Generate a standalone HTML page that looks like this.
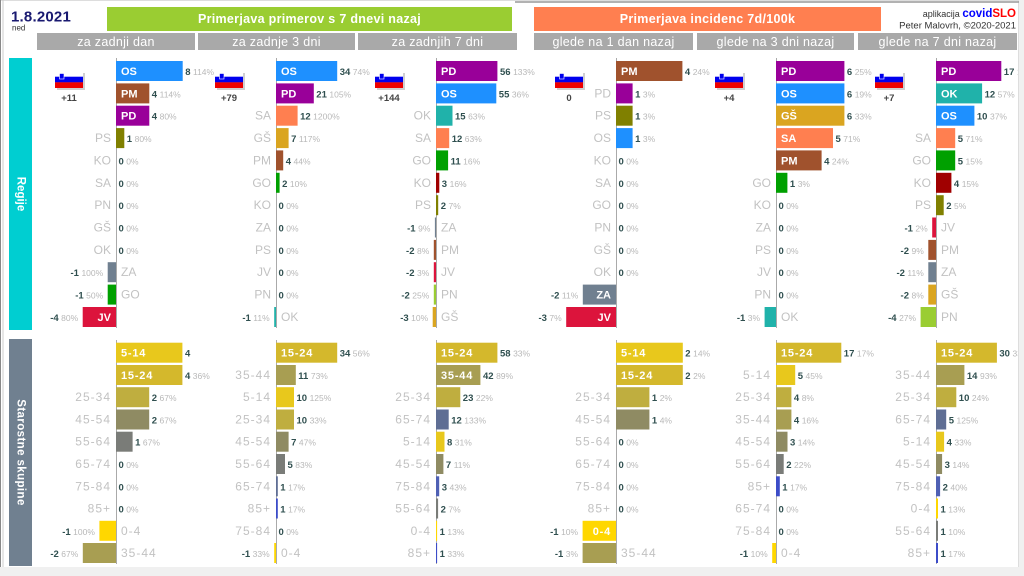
<!DOCTYPE html>
<html><head><meta charset="utf-8"><style>
html,body{margin:0;padding:0;background:#fff}
svg{display:block}
text{font-family:"Liberation Sans","DejaVu Sans",sans-serif}
.i{font-size:11px;font-weight:bold;fill:#fff}
.ia{font-size:11px;font-weight:bold;fill:#fff;letter-spacing:.8px}
.c{font-size:12px;fill:#c2c2c2}
.ca{font-size:12px;fill:#c2c2c2;letter-spacing:1px}
.v{font-size:9.5px;font-weight:bold;fill:#2f4f4f}
.p{font-size:8.5px;font-weight:normal;fill:#b8b8b8}
.e{text-anchor:end}
.h{font-size:12.5px;fill:#fff;text-anchor:middle;letter-spacing:.3px}
.t{font-size:12.5px;font-weight:bold;fill:#fff;text-anchor:middle;letter-spacing:.3px}
.n{font-size:9.5px;font-weight:bold;fill:#444;text-anchor:middle}
.ax{stroke:#aaa;stroke-width:1}
</style></head><body>
<svg width="1024" height="576" viewBox="0 0 1024 576" xmlns="http://www.w3.org/2000/svg">
<defs><clipPath id="cl"><rect x="0" y="0" width="1018" height="576"/></clipPath></defs>
<rect x="0" y="0" width="1024" height="576" fill="#fff"/>
<!-- frame -->
<rect x="1019" y="0" width="5" height="576" fill="#f0f0f0"/>
<rect x="0" y="567" width="1024" height="9" fill="#f0f0f0"/>
<line x1="1018.5" y1="0" x2="1018.5" y2="567" stroke="#ddd"/>
<line x1="0" y1="0.5" x2="1019" y2="0.5" stroke="#ddd"/>
<line x1="515" y1="2" x2="1019" y2="2" stroke="#999" stroke-width="1.5"/>
<line x1="0.5" y1="0" x2="0.5" y2="567" stroke="#888"/>
<line x1="3" y1="0" x2="3" y2="567" stroke="#ccc"/>

<!-- header -->
<text x="11" y="21.5" style="font-size:15px;font-weight:bold;fill:#191970;letter-spacing:.2px">1.8.2021</text>
<text x="12" y="30.5" style="font-size:8px;fill:#333">ned</text>
<rect x="107" y="7" width="405" height="24" fill="#9acd32"/>
<text class="t" x="309.5" y="23">Primerjava primerov s 7 dnevi nazaj</text>
<rect x="534" y="7" width="347" height="24" fill="#ff7f50"/>
<text class="t" x="707.5" y="23">Primerjava incidenc 7d/100k</text>
<text x="1016" y="17" text-anchor="end"><tspan style="font-size:9px;fill:#333">aplikacija </tspan><tspan style="font-size:11.5px;font-weight:bold;fill:#0000ff">covid</tspan><tspan style="font-size:11.5px;font-weight:bold;fill:#ff0000">SLO</tspan></text>
<text x="1016" y="28.5" text-anchor="end" style="font-size:9.5px;fill:#333">Peter Malovrh, ©2020-2021</text>
<rect x="37" y="33" width="158" height="17" fill="#a9a9a9"/><text class="h" x="116" y="46">za zadnji dan</text>
<rect x="198" y="33" width="157" height="17" fill="#a9a9a9"/><text class="h" x="276.5" y="46">za zadnje 3 dni</text>
<rect x="358" y="33" width="159" height="17" fill="#a9a9a9"/><text class="h" x="437.5" y="46">za zadnjih 7 dni</text>
<rect x="534" y="33" width="159" height="17" fill="#a9a9a9"/><text class="h" x="613.5" y="46">glede na 1 dan nazaj</text>
<rect x="697" y="33" width="157" height="17" fill="#a9a9a9"/><text class="h" x="775.5" y="46">glede na 3 dni nazaj</text>
<rect x="858" y="33" width="159" height="17" fill="#a9a9a9"/><text class="h" x="937.5" y="46">glede na 7 dni nazaj</text>

<!-- side labels -->
<rect x="9" y="58" width="23" height="272" fill="#00ced1"/>
<text transform="translate(20.5,194) rotate(90)" text-anchor="middle" dominant-baseline="central" style="font-size:11.5px;font-weight:bold;fill:#fff">Regije</text>
<rect x="9" y="339" width="23" height="227" fill="#708090"/>
<text transform="translate(20.5,452.5) rotate(90)" text-anchor="middle" dominant-baseline="central" style="font-size:11.5px;font-weight:bold;fill:#fff;letter-spacing:.4px">Starostne skupine</text>

<!-- axes -->
<g class="ax">
<line x1="116.5" y1="58" x2="116.5" y2="328"/><line x1="276.5" y1="58" x2="276.5" y2="328"/><line x1="436.5" y1="58" x2="436.5" y2="328"/>
<line x1="616.5" y1="58" x2="616.5" y2="328"/><line x1="776.5" y1="58" x2="776.5" y2="328"/><line x1="936.5" y1="58" x2="936.5" y2="328"/>
<line x1="116.5" y1="340" x2="116.5" y2="564"/><line x1="276.5" y1="340" x2="276.5" y2="564"/><line x1="436.5" y1="340" x2="436.5" y2="564"/>
<line x1="616.5" y1="340" x2="616.5" y2="564"/><line x1="776.5" y1="340" x2="776.5" y2="564"/><line x1="936.5" y1="340" x2="936.5" y2="564"/>
</g>

<!-- flags -->
<g>
<rect x="57" y="73" width="28" height="17" fill="#d0d0d0"/><rect x="55" y="71" width="28" height="6" fill="#fff"/><rect x="55" y="76.7" width="28" height="5.7" fill="#0000ee"/><rect x="55" y="82.3" width="28" height="5.7" fill="#ee0000"/><rect x="59.5" y="73.5" width="4.5" height="5.5" fill="#0000ee" stroke="#fff" stroke-width=".6"/>
<text class="n" x="69" y="101">+11</text>
<rect x="217" y="73" width="28" height="17" fill="#d0d0d0"/><rect x="215" y="71" width="28" height="6" fill="#fff"/><rect x="215" y="76.7" width="28" height="5.7" fill="#0000ee"/><rect x="215" y="82.3" width="28" height="5.7" fill="#ee0000"/><rect x="219.5" y="73.5" width="4.5" height="5.5" fill="#0000ee" stroke="#fff" stroke-width=".6"/>
<text class="n" x="229" y="101">+79</text>
<rect x="377" y="73" width="28" height="17" fill="#d0d0d0"/><rect x="375" y="71" width="28" height="6" fill="#fff"/><rect x="375" y="76.7" width="28" height="5.7" fill="#0000ee"/><rect x="375" y="82.3" width="28" height="5.7" fill="#ee0000"/><rect x="379.5" y="73.5" width="4.5" height="5.5" fill="#0000ee" stroke="#fff" stroke-width=".6"/>
<text class="n" x="389" y="101">+144</text>
<rect x="557" y="73" width="28" height="17" fill="#d0d0d0"/><rect x="555" y="71" width="28" height="6" fill="#fff"/><rect x="555" y="76.7" width="28" height="5.7" fill="#0000ee"/><rect x="555" y="82.3" width="28" height="5.7" fill="#ee0000"/><rect x="559.5" y="73.5" width="4.5" height="5.5" fill="#0000ee" stroke="#fff" stroke-width=".6"/>
<text class="n" x="569" y="101">0</text>
<rect x="717" y="73" width="28" height="17" fill="#d0d0d0"/><rect x="715" y="71" width="28" height="6" fill="#fff"/><rect x="715" y="76.7" width="28" height="5.7" fill="#0000ee"/><rect x="715" y="82.3" width="28" height="5.7" fill="#ee0000"/><rect x="719.5" y="73.5" width="4.5" height="5.5" fill="#0000ee" stroke="#fff" stroke-width=".6"/>
<text class="n" x="729" y="101">+4</text>
<rect x="877" y="73" width="28" height="17" fill="#d0d0d0"/><rect x="875" y="71" width="28" height="6" fill="#fff"/><rect x="875" y="76.7" width="28" height="5.7" fill="#0000ee"/><rect x="875" y="82.3" width="28" height="5.7" fill="#ee0000"/><rect x="879.5" y="73.5" width="4.5" height="5.5" fill="#0000ee" stroke="#fff" stroke-width=".6"/>
<text class="n" x="889" y="101">+7</text>
</g>

<!-- COL 1 regions -->
<g>
<rect x="116" y="61" width="66.7" height="20" fill="#1e90ff"/><text class="i" x="121" y="75">OS</text><text class="v" x="185.2" y="75">8<tspan class="p" dx="2.5">114%</tspan></text>
<rect x="116" y="83.4" width="33.3" height="20" fill="#a0522d"/><text class="i" x="121" y="97.4">PM</text><text class="v" x="151.8" y="97.4">4<tspan class="p" dx="2.5">114%</tspan></text>
<rect x="116" y="105.7" width="33.3" height="20" fill="#990099"/><text class="i" x="121" y="119.7">PD</text><text class="v" x="151.8" y="119.7">4<tspan class="p" dx="2.5">80%</tspan></text>
<rect x="116" y="128.1" width="8.3" height="20" fill="#808000"/><text class="c e" x="111" y="142.1">PS</text><text class="v" x="126.8" y="142.1">1<tspan class="p" dx="2.5">80%</tspan></text>
<text class="c e" x="111" y="164.4">KO</text><text class="v" x="118.5" y="164.4">0<tspan class="p" dx="2.5">0%</tspan></text>
<text class="c e" x="111" y="186.8">SA</text><text class="v" x="118.5" y="186.8">0<tspan class="p" dx="2.5">0%</tspan></text>
<text class="c e" x="111" y="209.2">PN</text><text class="v" x="118.5" y="209.2">0<tspan class="p" dx="2.5">0%</tspan></text>
<text class="c e" x="111" y="231.5">GŠ</text><text class="v" x="118.5" y="231.5">0<tspan class="p" dx="2.5">0%</tspan></text>
<text class="c e" x="111" y="253.9">OK</text><text class="v" x="118.5" y="253.9">0<tspan class="p" dx="2.5">0%</tspan></text>
<rect x="107.7" y="262.2" width="8.3" height="20" fill="#708090"/><text class="c" x="121" y="276.2">ZA</text><text class="v e" x="103.2" y="276.2">-1<tspan class="p" dx="2.5">100%</tspan></text>
<rect x="107.7" y="284.6" width="8.3" height="20" fill="#00a000"/><text class="c" x="121" y="298.6">GO</text><text class="v e" x="103.2" y="298.6">-1<tspan class="p" dx="2.5">50%</tspan></text>
<rect x="82.7" y="307" width="33.3" height="20" fill="#dc143c"/><text class="i e" x="111" y="321">JV</text><text class="v e" x="78.2" y="321">-4<tspan class="p" dx="2.5">80%</tspan></text>
</g>

<!-- COL 2 regions -->
<g>
<rect x="276" y="61" width="61.2" height="20" fill="#1e90ff"/><text class="i" x="281" y="75">OS</text><text class="v" x="339.7" y="75">34<tspan class="p" dx="2.5">74%</tspan></text>
<rect x="276" y="83.4" width="37.8" height="20" fill="#990099"/><text class="i" x="281" y="97.4">PD</text><text class="v" x="316.3" y="97.4">21<tspan class="p" dx="2.5">105%</tspan></text>
<rect x="276" y="105.7" width="21.6" height="20" fill="#ff7f50"/><text class="c e" x="271" y="119.7">SA</text><text class="v" x="300.1" y="119.7">12<tspan class="p" dx="2.5">1200%</tspan></text>
<rect x="276" y="128.1" width="12.6" height="20" fill="#daa520"/><text class="c e" x="271" y="142.1">GŠ</text><text class="v" x="291.1" y="142.1">7<tspan class="p" dx="2.5">117%</tspan></text>
<rect x="276" y="150.4" width="7.2" height="20" fill="#a0522d"/><text class="c e" x="271" y="164.4">PM</text><text class="v" x="285.7" y="164.4">4<tspan class="p" dx="2.5">44%</tspan></text>
<rect x="276" y="172.8" width="3.6" height="20" fill="#00a000"/><text class="c e" x="271" y="186.8">GO</text><text class="v" x="282.1" y="186.8">2<tspan class="p" dx="2.5">10%</tspan></text>
<text class="c e" x="271" y="209.2">KO</text><text class="v" x="278.5" y="209.2">0<tspan class="p" dx="2.5">0%</tspan></text>
<text class="c e" x="271" y="231.5">ZA</text><text class="v" x="278.5" y="231.5">0<tspan class="p" dx="2.5">0%</tspan></text>
<text class="c e" x="271" y="253.9">PS</text><text class="v" x="278.5" y="253.9">0<tspan class="p" dx="2.5">0%</tspan></text>
<text class="c e" x="271" y="276.2">JV</text><text class="v" x="278.5" y="276.2">0<tspan class="p" dx="2.5">0%</tspan></text>
<text class="c e" x="271" y="298.6">PN</text><text class="v" x="278.5" y="298.6">0<tspan class="p" dx="2.5">0%</tspan></text>
<rect x="274.2" y="307" width="1.8" height="20" fill="#20b2aa"/><text class="c" x="281" y="321">OK</text><text class="v e" x="269.7" y="321">-1<tspan class="p" dx="2.5">11%</tspan></text>
</g>

<!-- COL 3 regions -->
<g>
<rect x="436" y="61" width="61.4" height="20" fill="#990099"/><text class="i" x="441" y="75">PD</text><text class="v" x="500" y="75">56<tspan class="p" dx="2.5">133%</tspan></text>
<rect x="436" y="83.4" width="60.3" height="20" fill="#1e90ff"/><text class="i" x="441" y="97.4">OS</text><text class="v" x="498.8" y="97.4">55<tspan class="p" dx="2.5">36%</tspan></text>
<rect x="436" y="105.7" width="16.5" height="20" fill="#20b2aa"/><text class="c e" x="431" y="119.7">OK</text><text class="v" x="455" y="119.7">15<tspan class="p" dx="2.5">63%</tspan></text>
<rect x="436" y="128.1" width="13.2" height="20" fill="#ff7f50"/><text class="c e" x="431" y="142.1">SA</text><text class="v" x="451.7" y="142.1">12<tspan class="p" dx="2.5">63%</tspan></text>
<rect x="436" y="150.4" width="12.1" height="20" fill="#00a000"/><text class="c e" x="431" y="164.4">GO</text><text class="v" x="450.6" y="164.4">11<tspan class="p" dx="2.5">16%</tspan></text>
<rect x="436" y="172.8" width="3.3" height="20" fill="#a00000"/><text class="c e" x="431" y="186.8">KO</text><text class="v" x="441.8" y="186.8">3<tspan class="p" dx="2.5">16%</tspan></text>
<rect x="436" y="195.2" width="2.2" height="20" fill="#808000"/><text class="c e" x="431" y="209.2">PS</text><text class="v" x="440.7" y="209.2">2<tspan class="p" dx="2.5">7%</tspan></text>
<rect x="434.9" y="217.5" width="1.1" height="20" fill="#708090"/><text class="c" x="441" y="231.5">ZA</text><text class="v e" x="430.4" y="231.5">-1<tspan class="p" dx="2.5">9%</tspan></text>
<rect x="433.8" y="239.9" width="2.2" height="20" fill="#a0522d"/><text class="c" x="441" y="253.9">PM</text><text class="v e" x="429.3" y="253.9">-2<tspan class="p" dx="2.5">8%</tspan></text>
<rect x="433.8" y="262.2" width="2.2" height="20" fill="#dc143c"/><text class="c" x="441" y="276.2">JV</text><text class="v e" x="429.3" y="276.2">-2<tspan class="p" dx="2.5">3%</tspan></text>
<rect x="433.8" y="284.6" width="2.2" height="20" fill="#9acd32"/><text class="c" x="441" y="298.6">PN</text><text class="v e" x="429.3" y="298.6">-2<tspan class="p" dx="2.5">25%</tspan></text>
<rect x="432.7" y="307" width="3.3" height="20" fill="#daa520"/><text class="c" x="441" y="321">GŠ</text><text class="v e" x="428.2" y="321">-3<tspan class="p" dx="2.5">10%</tspan></text>
</g>

<!-- COL 4 regions -->
<g>
<rect x="616" y="61" width="66.4" height="20" fill="#a0522d"/><text class="i" x="621" y="75">PM</text><text class="v" x="684.9" y="75">4<tspan class="p" dx="2.5">24%</tspan></text>
<rect x="616" y="83.4" width="16.6" height="20" fill="#990099"/><text class="c e" x="611" y="97.4">PD</text><text class="v" x="635.1" y="97.4">1<tspan class="p" dx="2.5">3%</tspan></text>
<rect x="616" y="105.7" width="16.6" height="20" fill="#808000"/><text class="c e" x="611" y="119.7">PS</text><text class="v" x="635.1" y="119.7">1<tspan class="p" dx="2.5">3%</tspan></text>
<rect x="616" y="128.1" width="16.6" height="20" fill="#1e90ff"/><text class="c e" x="611" y="142.1">OS</text><text class="v" x="635.1" y="142.1">1<tspan class="p" dx="2.5">3%</tspan></text>
<text class="c e" x="611" y="164.4">KO</text><text class="v" x="618.5" y="164.4">0<tspan class="p" dx="2.5">0%</tspan></text>
<text class="c e" x="611" y="186.8">SA</text><text class="v" x="618.5" y="186.8">0<tspan class="p" dx="2.5">0%</tspan></text>
<text class="c e" x="611" y="209.2">GO</text><text class="v" x="618.5" y="209.2">0<tspan class="p" dx="2.5">0%</tspan></text>
<text class="c e" x="611" y="231.5">PN</text><text class="v" x="618.5" y="231.5">0<tspan class="p" dx="2.5">0%</tspan></text>
<text class="c e" x="611" y="253.9">GŠ</text><text class="v" x="618.5" y="253.9">0<tspan class="p" dx="2.5">0%</tspan></text>
<text class="c e" x="611" y="276.2">OK</text><text class="v" x="618.5" y="276.2">0<tspan class="p" dx="2.5">0%</tspan></text>
<rect x="582.8" y="284.6" width="33.2" height="20" fill="#708090"/><text class="i e" x="611" y="298.6">ZA</text><text class="v e" x="578.3" y="298.6">-2<tspan class="p" dx="2.5">11%</tspan></text>
<rect x="566.2" y="307" width="49.8" height="20" fill="#dc143c"/><text class="i e" x="611" y="321">JV</text><text class="v e" x="561.7" y="321">-3<tspan class="p" dx="2.5">7%</tspan></text>
</g>

<!-- COL 5 regions -->
<g>
<rect x="776" y="61" width="68.4" height="20" fill="#990099"/><text class="i" x="781" y="75">PD</text><text class="v" x="846.9" y="75">6<tspan class="p" dx="2.5">25%</tspan></text>
<rect x="776" y="83.4" width="68.4" height="20" fill="#1e90ff"/><text class="i" x="781" y="97.4">OS</text><text class="v" x="846.9" y="97.4">6<tspan class="p" dx="2.5">19%</tspan></text>
<rect x="776" y="105.7" width="68.4" height="20" fill="#daa520"/><text class="i" x="781" y="119.7">GŠ</text><text class="v" x="846.9" y="119.7">6<tspan class="p" dx="2.5">33%</tspan></text>
<rect x="776" y="128.1" width="57" height="20" fill="#ff7f50"/><text class="i" x="781" y="142.1">SA</text><text class="v" x="835.5" y="142.1">5<tspan class="p" dx="2.5">71%</tspan></text>
<rect x="776" y="150.4" width="45.6" height="20" fill="#a0522d"/><text class="i" x="781" y="164.4">PM</text><text class="v" x="824.1" y="164.4">4<tspan class="p" dx="2.5">24%</tspan></text>
<rect x="776" y="172.8" width="11.4" height="20" fill="#00a000"/><text class="c e" x="771" y="186.8">GO</text><text class="v" x="789.9" y="186.8">1<tspan class="p" dx="2.5">3%</tspan></text>
<text class="c e" x="771" y="209.2">KO</text><text class="v" x="778.5" y="209.2">0<tspan class="p" dx="2.5">0%</tspan></text>
<text class="c e" x="771" y="231.5">ZA</text><text class="v" x="778.5" y="231.5">0<tspan class="p" dx="2.5">0%</tspan></text>
<text class="c e" x="771" y="253.9">PS</text><text class="v" x="778.5" y="253.9">0<tspan class="p" dx="2.5">0%</tspan></text>
<text class="c e" x="771" y="276.2">JV</text><text class="v" x="778.5" y="276.2">0<tspan class="p" dx="2.5">0%</tspan></text>
<text class="c e" x="771" y="298.6">PN</text><text class="v" x="778.5" y="298.6">0<tspan class="p" dx="2.5">0%</tspan></text>
<rect x="764.6" y="307" width="11.4" height="20" fill="#20b2aa"/><text class="c" x="781" y="321">OK</text><text class="v e" x="760.1" y="321">-1<tspan class="p" dx="2.5">3%</tspan></text>
</g>

<!-- COL 6 regions -->
<g clip-path="url(#cl)">
<rect x="936" y="61" width="65.3" height="20" fill="#990099"/><text class="i" x="941" y="75">PD</text><text class="v" x="1003.8" y="75">17<tspan class="p" dx="2.5">133%</tspan></text>
<rect x="936" y="83.4" width="46.1" height="20" fill="#20b2aa"/><text class="i" x="941" y="97.4">OK</text><text class="v" x="984.6" y="97.4">12<tspan class="p" dx="2.5">57%</tspan></text>
<rect x="936" y="105.7" width="38.4" height="20" fill="#1e90ff"/><text class="i" x="941" y="119.7">OS</text><text class="v" x="976.9" y="119.7">10<tspan class="p" dx="2.5">37%</tspan></text>
<rect x="936" y="128.1" width="19.2" height="20" fill="#ff7f50"/><text class="c e" x="931" y="142.1">SA</text><text class="v" x="957.7" y="142.1">5<tspan class="p" dx="2.5">71%</tspan></text>
<rect x="936" y="150.4" width="19.2" height="20" fill="#00a000"/><text class="c e" x="931" y="164.4">GO</text><text class="v" x="957.7" y="164.4">5<tspan class="p" dx="2.5">15%</tspan></text>
<rect x="936" y="172.8" width="15.4" height="20" fill="#a00000"/><text class="c e" x="931" y="186.8">KO</text><text class="v" x="953.9" y="186.8">4<tspan class="p" dx="2.5">15%</tspan></text>
<rect x="936" y="195.2" width="7.7" height="20" fill="#808000"/><text class="c e" x="931" y="209.2">PS</text><text class="v" x="946.2" y="209.2">2<tspan class="p" dx="2.5">5%</tspan></text>
<rect x="932.2" y="217.5" width="3.8" height="20" fill="#dc143c"/><text class="c" x="941" y="231.5">JV</text><text class="v e" x="927.7" y="231.5">-1<tspan class="p" dx="2.5">2%</tspan></text>
<rect x="928.3" y="239.9" width="7.7" height="20" fill="#a0522d"/><text class="c" x="941" y="253.9">PM</text><text class="v e" x="923.8" y="253.9">-2<tspan class="p" dx="2.5">9%</tspan></text>
<rect x="928.3" y="262.2" width="7.7" height="20" fill="#708090"/><text class="c" x="941" y="276.2">ZA</text><text class="v e" x="923.8" y="276.2">-2<tspan class="p" dx="2.5">11%</tspan></text>
<rect x="928.3" y="284.6" width="7.7" height="20" fill="#daa520"/><text class="c" x="941" y="298.6">GŠ</text><text class="v e" x="923.8" y="298.6">-2<tspan class="p" dx="2.5">8%</tspan></text>
<rect x="920.6" y="307" width="15.4" height="20" fill="#9acd32"/><text class="c" x="941" y="321">PN</text><text class="v e" x="916.1" y="321">-4<tspan class="p" dx="2.5">27%</tspan></text>
</g>

<!-- AGES COL 1 -->
<g>
<rect x="116" y="342.7" width="66.4" height="20" fill="#e8c81c"/><text class="ia" x="121" y="356.7">5-14</text><text class="v" x="185" y="356.7">4</text>
<rect x="116" y="365" width="66.4" height="20" fill="#d4b82c"/><text class="ia" x="121" y="379">15-24</text><text class="v" x="185" y="379">4<tspan class="p" dx="2.5">36%</tspan></text>
<rect x="116" y="387.2" width="33.2" height="20" fill="#bfae3f"/><text class="ca e" x="111" y="401.2">25-34</text><text class="v" x="151.7" y="401.2">2<tspan class="p" dx="2.5">67%</tspan></text>
<rect x="116" y="409.5" width="33.2" height="20" fill="#8f8b63"/><text class="ca e" x="111" y="423.5">45-54</text><text class="v" x="151.7" y="423.5">2<tspan class="p" dx="2.5">67%</tspan></text>
<rect x="116" y="431.7" width="16.6" height="20" fill="#7a7c78"/><text class="ca e" x="111" y="445.7">55-64</text><text class="v" x="135.1" y="445.7">1<tspan class="p" dx="2.5">67%</tspan></text>
<text class="ca e" x="111" y="468">65-74</text><text class="v" x="118.5" y="468">0<tspan class="p" dx="2.5">0%</tspan></text>
<text class="ca e" x="111" y="490.3">75-84</text><text class="v" x="118.5" y="490.3">0<tspan class="p" dx="2.5">0%</tspan></text>
<text class="ca e" x="111" y="512.5">85+</text><text class="v" x="118.5" y="512.5">0<tspan class="p" dx="2.5">0%</tspan></text>
<rect x="99.4" y="520.8" width="16.6" height="20" fill="#ffd700"/><text class="ca" x="121" y="534.8">0-4</text><text class="v e" x="94.9" y="534.8">-1<tspan class="p" dx="2.5">100%</tspan></text>
<rect x="82.8" y="543" width="33.2" height="20" fill="#a89e52"/><text class="ca" x="121" y="557">35-44</text><text class="v e" x="78.3" y="557">-2<tspan class="p" dx="2.5">67%</tspan></text>
</g>

<!-- AGES COL 2 -->
<g>
<rect x="276" y="342.7" width="61.2" height="20" fill="#d4b82c"/><text class="ia" x="281" y="356.7">15-24</text><text class="v" x="339.7" y="356.7">34<tspan class="p" dx="2.5">56%</tspan></text>
<rect x="276" y="365" width="19.8" height="20" fill="#a89e52"/><text class="ca e" x="271" y="379">35-44</text><text class="v" x="298.3" y="379">11<tspan class="p" dx="2.5">73%</tspan></text>
<rect x="276" y="387.2" width="18" height="20" fill="#e8c81c"/><text class="ca e" x="271" y="401.2">5-14</text><text class="v" x="296.5" y="401.2">10<tspan class="p" dx="2.5">125%</tspan></text>
<rect x="276" y="409.5" width="18" height="20" fill="#bfae3f"/><text class="ca e" x="271" y="423.5">25-34</text><text class="v" x="296.5" y="423.5">10<tspan class="p" dx="2.5">33%</tspan></text>
<rect x="276" y="431.7" width="12.6" height="20" fill="#8f8b63"/><text class="ca e" x="271" y="445.7">45-54</text><text class="v" x="291.1" y="445.7">7<tspan class="p" dx="2.5">47%</tspan></text>
<rect x="276" y="454" width="9" height="20" fill="#7a7c78"/><text class="ca e" x="271" y="468">55-64</text><text class="v" x="287.5" y="468">5<tspan class="p" dx="2.5">83%</tspan></text>
<rect x="276" y="476.3" width="1.8" height="20" fill="#5f6e94"/><text class="ca e" x="271" y="490.3">65-74</text><text class="v" x="280.3" y="490.3">1<tspan class="p" dx="2.5">17%</tspan></text>
<rect x="276" y="498.5" width="1.8" height="20" fill="#3c4cc8"/><text class="ca e" x="271" y="512.5">85+</text><text class="v" x="280.3" y="512.5">1<tspan class="p" dx="2.5">17%</tspan></text>
<text class="ca e" x="271" y="534.8">75-84</text><text class="v" x="278.5" y="534.8">0<tspan class="p" dx="2.5">0%</tspan></text>
<rect x="274.2" y="543" width="1.8" height="20" fill="#ffd700"/><text class="ca" x="281" y="557">0-4</text><text class="v e" x="269.7" y="557">-1<tspan class="p" dx="2.5">33%</tspan></text>
</g>

<!-- AGES COL 3 -->
<g>
<rect x="436" y="342.7" width="61.4" height="20" fill="#d4b82c"/><text class="ia" x="441" y="356.7">15-24</text><text class="v" x="500" y="356.7">58<tspan class="p" dx="2.5">33%</tspan></text>
<rect x="436" y="365" width="44.4" height="20" fill="#a89e52"/><text class="ia" x="441" y="379">35-44</text><text class="v" x="483" y="379">42<tspan class="p" dx="2.5">89%</tspan></text>
<rect x="436" y="387.2" width="24.3" height="20" fill="#bfae3f"/><text class="ca e" x="431" y="401.2">25-34</text><text class="v" x="462.8" y="401.2">23<tspan class="p" dx="2.5">22%</tspan></text>
<rect x="436" y="409.5" width="12.7" height="20" fill="#5f6e94"/><text class="ca e" x="431" y="423.5">65-74</text><text class="v" x="451.2" y="423.5">12<tspan class="p" dx="2.5">133%</tspan></text>
<rect x="436" y="431.7" width="8.5" height="20" fill="#e8c81c"/><text class="ca e" x="431" y="445.7">5-14</text><text class="v" x="447" y="445.7">8<tspan class="p" dx="2.5">31%</tspan></text>
<rect x="436" y="454" width="7.4" height="20" fill="#8f8b63"/><text class="ca e" x="431" y="468">45-54</text><text class="v" x="445.9" y="468">7<tspan class="p" dx="2.5">11%</tspan></text>
<rect x="436" y="476.3" width="3.2" height="20" fill="#4f60b4"/><text class="ca e" x="431" y="490.3">75-84</text><text class="v" x="441.7" y="490.3">3<tspan class="p" dx="2.5">43%</tspan></text>
<rect x="436" y="498.5" width="2.1" height="20" fill="#7a7c78"/><text class="ca e" x="431" y="512.5">55-64</text><text class="v" x="440.6" y="512.5">2<tspan class="p" dx="2.5">7%</tspan></text>
<rect x="436" y="520.8" width="1.1" height="20" fill="#ffd700"/><text class="ca e" x="431" y="534.8">0-4</text><text class="v" x="439.6" y="534.8">1<tspan class="p" dx="2.5">13%</tspan></text>
<rect x="436" y="543" width="1.1" height="20" fill="#3c4cc8"/><text class="ca e" x="431" y="557">85+</text><text class="v" x="439.6" y="557">1<tspan class="p" dx="2.5">33%</tspan></text>
</g>

<!-- AGES COL 4 -->
<g>
<rect x="616" y="342.7" width="66.8" height="20" fill="#e8c81c"/><text class="ia" x="621" y="356.7">5-14</text><text class="v" x="685.3" y="356.7">2<tspan class="p" dx="2.5">14%</tspan></text>
<rect x="616" y="365" width="66.8" height="20" fill="#d4b82c"/><text class="ia" x="621" y="379">15-24</text><text class="v" x="685.3" y="379">2<tspan class="p" dx="2.5">2%</tspan></text>
<rect x="616" y="387.2" width="33.4" height="20" fill="#bfae3f"/><text class="ca e" x="611" y="401.2">25-34</text><text class="v" x="651.9" y="401.2">1<tspan class="p" dx="2.5">2%</tspan></text>
<rect x="616" y="409.5" width="33.4" height="20" fill="#8f8b63"/><text class="ca e" x="611" y="423.5">45-54</text><text class="v" x="651.9" y="423.5">1<tspan class="p" dx="2.5">4%</tspan></text>
<text class="ca e" x="611" y="445.7">55-64</text><text class="v" x="618.5" y="445.7">0<tspan class="p" dx="2.5">0%</tspan></text>
<text class="ca e" x="611" y="468">65-74</text><text class="v" x="618.5" y="468">0<tspan class="p" dx="2.5">0%</tspan></text>
<text class="ca e" x="611" y="490.3">75-84</text><text class="v" x="618.5" y="490.3">0<tspan class="p" dx="2.5">0%</tspan></text>
<text class="ca e" x="611" y="512.5">85+</text><text class="v" x="618.5" y="512.5">0<tspan class="p" dx="2.5">0%</tspan></text>
<rect x="582.6" y="520.8" width="33.4" height="20" fill="#ffd700"/><text class="ia e" x="611" y="534.8">0-4</text><text class="v e" x="578.1" y="534.8">-1<tspan class="p" dx="2.5">10%</tspan></text>
<rect x="582.6" y="543" width="33.4" height="20" fill="#a89e52"/><text class="ca" x="621" y="557">35-44</text><text class="v e" x="578.1" y="557">-1<tspan class="p" dx="2.5">3%</tspan></text>
</g>

<!-- AGES COL 5 -->
<g>
<rect x="776" y="342.7" width="65.3" height="20" fill="#d4b82c"/><text class="ia" x="781" y="356.7">15-24</text><text class="v" x="843.8" y="356.7">17<tspan class="p" dx="2.5">17%</tspan></text>
<rect x="776" y="365" width="19.2" height="20" fill="#e8c81c"/><text class="ca e" x="771" y="379">5-14</text><text class="v" x="797.7" y="379">5<tspan class="p" dx="2.5">45%</tspan></text>
<rect x="776" y="387.2" width="15.4" height="20" fill="#bfae3f"/><text class="ca e" x="771" y="401.2">25-34</text><text class="v" x="793.9" y="401.2">4<tspan class="p" dx="2.5">8%</tspan></text>
<rect x="776" y="409.5" width="15.4" height="20" fill="#a89e52"/><text class="ca e" x="771" y="423.5">35-44</text><text class="v" x="793.9" y="423.5">4<tspan class="p" dx="2.5">16%</tspan></text>
<rect x="776" y="431.7" width="11.5" height="20" fill="#8f8b63"/><text class="ca e" x="771" y="445.7">45-54</text><text class="v" x="790" y="445.7">3<tspan class="p" dx="2.5">14%</tspan></text>
<rect x="776" y="454" width="7.7" height="20" fill="#7a7c78"/><text class="ca e" x="771" y="468">55-64</text><text class="v" x="786.2" y="468">2<tspan class="p" dx="2.5">22%</tspan></text>
<rect x="776" y="476.3" width="3.8" height="20" fill="#3c4cc8"/><text class="ca e" x="771" y="490.3">85+</text><text class="v" x="782.3" y="490.3">1<tspan class="p" dx="2.5">17%</tspan></text>
<text class="ca e" x="771" y="512.5">65-74</text><text class="v" x="778.5" y="512.5">0<tspan class="p" dx="2.5">0%</tspan></text>
<text class="ca e" x="771" y="534.8">75-84</text><text class="v" x="778.5" y="534.8">0<tspan class="p" dx="2.5">0%</tspan></text>
<rect x="772.2" y="543" width="3.8" height="20" fill="#ffd700"/><text class="ca" x="781" y="557">0-4</text><text class="v e" x="767.7" y="557">-1<tspan class="p" dx="2.5">10%</tspan></text>
</g>

<!-- AGES COL 6 -->
<g clip-path="url(#cl)">
<rect x="936" y="342.7" width="60.9" height="20" fill="#d4b82c"/><text class="ia" x="941" y="356.7">15-24</text><text class="v" x="999.4" y="356.7">30<tspan class="p" dx="2.5">33%</tspan></text>
<rect x="936" y="365" width="28.4" height="20" fill="#a89e52"/><text class="ca e" x="931" y="379">35-44</text><text class="v" x="966.9" y="379">14<tspan class="p" dx="2.5">93%</tspan></text>
<rect x="936" y="387.2" width="20.3" height="20" fill="#bfae3f"/><text class="ca e" x="931" y="401.2">25-34</text><text class="v" x="958.8" y="401.2">10<tspan class="p" dx="2.5">24%</tspan></text>
<rect x="936" y="409.5" width="10.2" height="20" fill="#5f6e94"/><text class="ca e" x="931" y="423.5">65-74</text><text class="v" x="948.7" y="423.5">5<tspan class="p" dx="2.5">125%</tspan></text>
<rect x="936" y="431.7" width="8.1" height="20" fill="#e8c81c"/><text class="ca e" x="931" y="445.7">5-14</text><text class="v" x="946.6" y="445.7">4<tspan class="p" dx="2.5">33%</tspan></text>
<rect x="936" y="454" width="6.1" height="20" fill="#8f8b63"/><text class="ca e" x="931" y="468">45-54</text><text class="v" x="944.6" y="468">3<tspan class="p" dx="2.5">14%</tspan></text>
<rect x="936" y="476.3" width="4.1" height="20" fill="#4f60b4"/><text class="ca e" x="931" y="490.3">75-84</text><text class="v" x="942.6" y="490.3">2<tspan class="p" dx="2.5">40%</tspan></text>
<rect x="936" y="498.5" width="2" height="20" fill="#ffd700"/><text class="ca e" x="931" y="512.5">0-4</text><text class="v" x="940.5" y="512.5">1<tspan class="p" dx="2.5">13%</tspan></text>
<rect x="936" y="520.8" width="2" height="20" fill="#7a7c78"/><text class="ca e" x="931" y="534.8">55-64</text><text class="v" x="940.5" y="534.8">1<tspan class="p" dx="2.5">10%</tspan></text>
<rect x="936" y="543" width="2" height="20" fill="#3c4cc8"/><text class="ca e" x="931" y="557">85+</text><text class="v" x="940.5" y="557">1<tspan class="p" dx="2.5">17%</tspan></text>
</g>
</svg>
</body></html>
